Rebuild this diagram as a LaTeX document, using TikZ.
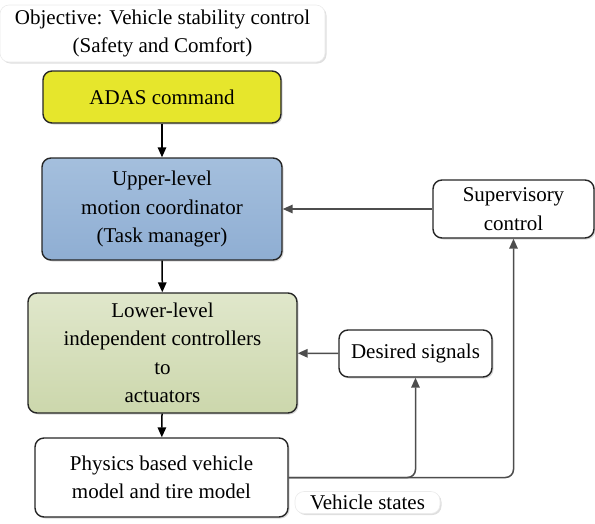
\documentclass[tikz,border=0pt]{standalone}
\usepackage{fontspec}
\setmainfont{Liberation Serif}
\usetikzlibrary{shadows,arrows.meta}
\definecolor{adasY}{HTML}{E6E62C}
\definecolor{upTop}{HTML}{A4BFDD}
\definecolor{upBot}{HTML}{8FAED3}
\definecolor{loTop}{HTML}{E0E7CB}
\definecolor{loBot}{HTML}{CCD7AC}
\definecolor{lineG}{HTML}{4D4D4D}
\begin{document}
\begin{tikzpicture}[x=1pt,y=-1pt,
  txt/.style={align=center, font=\fontsize{21}{28.5}\selectfont, inner sep=0pt},
  box/.style={txt, draw=black!85, line width=1.4pt, rounded corners=9pt,
    drop shadow={shadow xshift=1.5pt, shadow yshift=-1.5pt, opacity=0.3}},
  soft/.style={txt, fill=white, draw=black!8, line width=0.6pt, rounded corners=9pt,
    drop shadow={shadow xshift=1.5pt, shadow yshift=-1.5pt, opacity=0.25}},
  arr/.style={line width=1.5pt, -{Triangle[length=10pt,width=8.5pt]}},
  garr/.style={arr, draw=lineG, color=lineG},
  glin/.style={line width=1.5pt, draw=lineG, rounded corners=8pt, -{Triangle[length=10pt,width=8.5pt]}}
]
\useasboundingbox (0,0) rectangle (595,523);
\node[soft, minimum width=325pt, minimum height=57pt] (obj) at (162.5,33.5)
  {Objective: Vehicle stability control\\(Safety and Comfort)};
\node[box, fill=adasY, minimum width=238pt, minimum height=52pt] (adas) at (162,97) {ADAS command};
\node[box, top color=upTop, bottom color=upBot, minimum width=240pt, minimum height=102pt] (upper) at (162,209)
  {Upper-level\\motion coordinator\\(Task manager)};
\node[box, top color=loTop, bottom color=loBot, minimum width=269pt, minimum height=120pt] (lower) at (162.5,353)
  {Lower-level\\independent controllers\\to\\actuators};
\node[box, fill=white, minimum width=253pt, minimum height=79pt] (phys) at (161.5,477.5)
  {Physics based vehicle\\model and tire model};
\node[box, fill=white, minimum width=161pt, minimum height=58pt] (sup) at (513.5,209)
  {Supervisory\\control};
\node[box, fill=white, minimum width=153pt, minimum height=47pt] (des) at (415.5,353.5)
  {Desired signals};
\node[soft, minimum width=145pt, minimum height=22pt] (vs) at (367.5,502.5) {Vehicle states};

\draw[arr] (adas) -- (upper);
\draw[arr] (upper) -- (lower);
\draw[arr] (lower) -- (phys);
\draw[garr] (sup) -- (upper);
\draw[garr] (des) -- (lower);
\draw[glin] (phys.east) -| (des.south);
\draw[glin] (phys.east) -| (sup.south);
\end{tikzpicture}
\end{document}
